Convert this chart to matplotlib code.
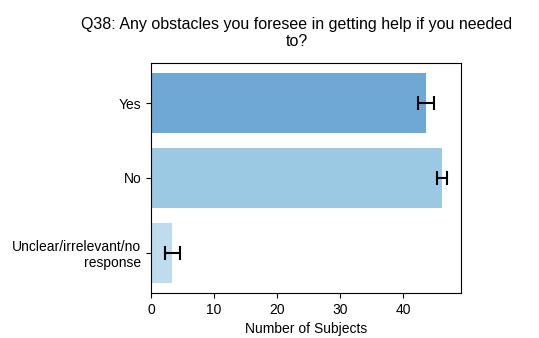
import numpy as np
import matplotlib.pyplot as plt

plt.rcParams['font.family'] = ['Liberation Sans', 'DejaVu Sans']

categories = ['Yes', 'No', 'Unclear/irrelevant/no\nresponse']
counts = [43.6, 46.1, 3.4]
errors = [1.25, 0.85, 1.2]
colors = ['#6fa8d4', '#9bc8e3', '#bedcec']

fig = plt.figure(figsize=(5.39, 3.38), dpi=100)
ax = fig.add_axes([0.280, 0.133, 0.575, 0.681])

y = np.arange(len(categories))
ax.barh(y, counts, height=0.8, color=colors,
        xerr=errors, error_kw=dict(ecolor='black', elinewidth=1.5, capsize=5, capthick=1.5))
ax.set_yticks(y)
ax.set_yticklabels(categories, fontsize=10)
ax.set_ylim(2.54, -0.54)
ax.set_xlim(0, 49.1)
ax.set_xticks([0, 10, 20, 30, 40])
ax.tick_params(labelsize=10)
ax.set_xlabel('Number of Subjects', fontsize=10)
ax.set_title('Q38: Any obstacles you foresee in getting help if you needed\nto?',
             fontsize=11.5, pad=12, x=0.47)

fig.savefig('out.png', dpi=100)
